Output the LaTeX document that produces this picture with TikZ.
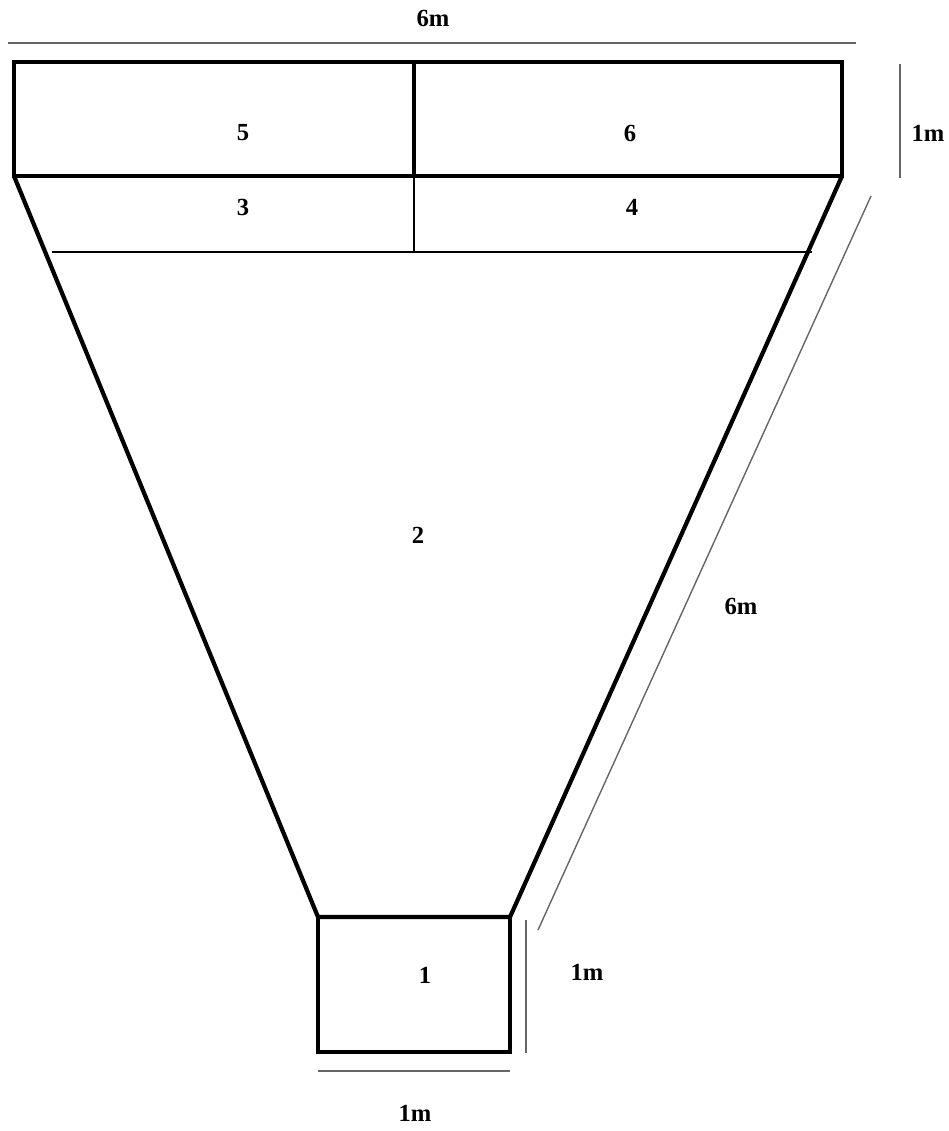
\documentclass[tikz,border=0pt]{standalone}
\usepackage{fontspec}
\setmainfont{Liberation Serif}
\usetikzlibrary{positioning}

\begin{document}
\begin{tikzpicture}[x=0.02cm,y=-0.02cm,
    wall/.style={line width=2.4pt,line join=miter},
    thinwall/.style={line width=0.9pt},
    dimline/.style={gray!80!black,line width=0.8pt},
    lbl/.style={font=\fontsize{14}{16}\selectfont\bfseries}]
    \useasboundingbox (0,0) rectangle (948,1131);
    % corners
    \coordinate (tl) at (14,62);
    \coordinate (tr) at (842,62);
    \coordinate (ml) at (14,176);
    \coordinate (mr) at (842,176);
    \coordinate (bl) at (318,917);
    \coordinate (br) at (510,917);
    \coordinate (fl) at (318,1052);
    \coordinate (fr) at (510,1052);
    % top box
    \draw[wall] (tl) rectangle (mr);
    \draw[wall] (414,62) -- (414,176);
    % funnel
    \draw[wall] (ml) -- (bl) -- (br) -- (mr);
    \draw[line width=1.6pt] (52,252) -- (812,252);
    \draw[thinwall] (414,176) -- (414,252);
    % bottom box
    \draw[wall] (bl) -- (fl) -- (fr) -- (br);
    % dimensions
    \draw[dimline] (8,43) -- (856,43);
    \draw[dimline] (900,64) -- (900,178);
    \draw[dimline] (871,196) -- (538,930);
    \draw[dimline] (526,920) -- (526,1053);
    \draw[dimline] (318,1071) -- (510,1071);
    % labels
    \node[lbl] (n5) at (243,133) {5};
    \node[lbl] (n6) at (630,133) {6};
    \node[lbl] (n3) at (243,207) {3};
    \node[lbl] (n4) at (632,207) {4};
    \node[lbl] (n2) at (418,535) {2};
    \node[lbl] (n1) at (425,975) {1};
    \node[lbl] (dtop) at (433,18) {6m};
    \node[lbl] (dright) at (928,133) {1m};
    \node[lbl] (dslant) at (741,606) {6m};
    \node[lbl] (dbox) at (587,972) {1m};
    \node[lbl] (dbase) at (415,1113) {1m};
\end{tikzpicture}
\end{document}
